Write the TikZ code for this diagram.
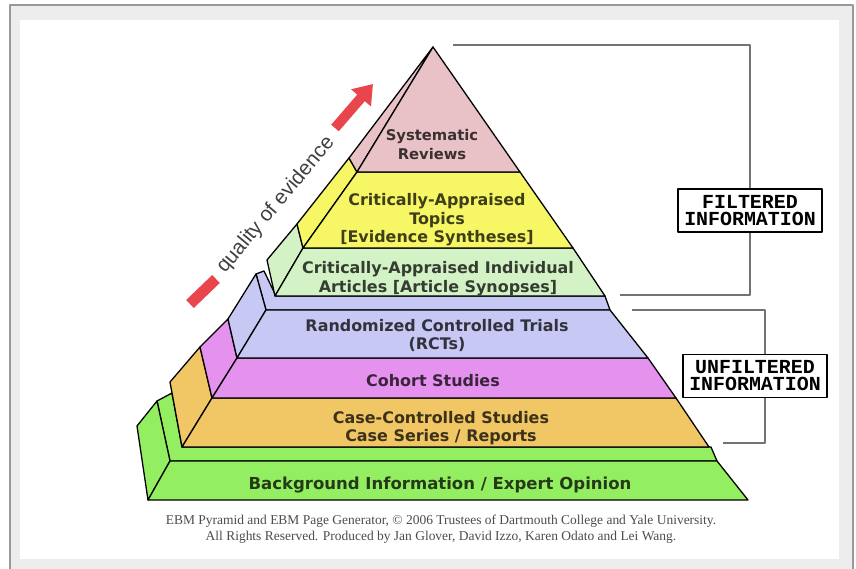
\documentclass[tikz,border=0pt]{standalone}
\usepackage{fontspec}
\setmainfont{DejaVu Sans}
\newfontfamily\boxfont{Liberation Mono}
\newfontfamily\qualfont{Liberation Sans}
\newfontfamily\creditfont{Liberation Serif}
\usetikzlibrary{arrows.meta}
\definecolor{srpink}{HTML}{E8C2C6}
\definecolor{topyellow}{HTML}{F7F765}
\definecolor{artgreen}{HTML}{D3F2C6}
\definecolor{rctblue}{HTML}{C8C8F5}
\definecolor{cohmag}{HTML}{E592EE}
\definecolor{ccorange}{HTML}{F1C665}
\definecolor{bggreen}{HTML}{94EE62}
\definecolor{evred}{HTML}{E8454D}
\begin{document}
\begin{tikzpicture}[x=0.03cm,y=-0.03cm,line join=round,
  face/.style={draw=black,line width=1.1pt},
  layertext/.style={font=\bfseries\fontsize{13.6}{15.8}\selectfont,align=center},
  infobox/.style={draw=black,line width=1.4pt,fill=white,minimum width=4.32cm,minimum height=1.29cm,
    inner sep=0pt,align=center,font=\boxfont\bfseries\fontsize{17}{14.5}\selectfont},
  bracket/.style={draw=black!55,line width=1.3pt}]
\useasboundingbox (0,0) rectangle (856,569);

% frame
\fill[black!7] (10,5) rectangle (853,569);
\draw[black!40,line width=1pt] (10,569) |- (853,5) -- (853,569);
\fill[white] (20,20) rectangle (839,559);

% background information
\filldraw[face,fill=bggreen] (157,401) -- (172,393) -- (182,447) -- (711,447) -- (717,461) -- (170,461) -- cycle;
\filldraw[face,fill=bggreen] (137,426) -- (157,401) -- (170,461) -- (148,500) -- cycle;
\filldraw[face,fill=bggreen] (170,461) -- (717,461) -- (748,500) -- (148,500) -- cycle;
\node[layertext,font=\bfseries\fontsize{14.1}{15.8}\selectfont,text=bggreen!25!black] (bg) at (440,485) {Background Information / Expert Opinion};

% case-controlled
\filldraw[face,fill=ccorange] (170,382) -- (200,347) -- (212,398) -- (182,447) -- cycle;
\filldraw[face,fill=ccorange] (212,398) -- (676,398) -- (709,447) -- (182,447) -- cycle;
\node[layertext,text=ccorange!25!black] (ccs) at (441,428) {Case-Controlled Studies\\Case Series / Reports};

% cohort
\filldraw[face,fill=cohmag] (200,347) -- (228,319) -- (237,358) -- (212,398) -- cycle;
\filldraw[face,fill=cohmag] (237,358) -- (648,358) -- (676,398) -- (212,398) -- cycle;
\node[layertext,text=cohmag!25!black] (coh) at (433,381) {Cohort Studies};

% rct
\filldraw[face,fill=rctblue] (256,274) -- (264,271) -- (276,296) -- (605,296) -- (610,310) -- (266,310) -- cycle;
\filldraw[face,fill=rctblue] (228,319) -- (256,274) -- (266,310) -- (237,358) -- cycle;
\filldraw[face,fill=rctblue] (266,310) -- (610,310) -- (648,358) -- (237,358) -- cycle;
\node[layertext,text=rctblue!25!black] (rct) at (437,335.5) {Randomized Controlled Trials\\(RCTs)};

% articles
\filldraw[face,fill=artgreen] (267,260) -- (297,224) -- (303,248) -- (275,296) -- cycle;
\filldraw[face,fill=artgreen] (303,248) -- (573,248) -- (605,296) -- (275,296) -- cycle;
\node[layertext,text=artgreen!25!black] (cai) at (438,278.5) {Critically-Appraised Individual\\Articles {[Article Synopses]}};

% topics
\filldraw[face,fill=topyellow] (297,224) -- (349,158) -- (357,172) -- (303,248) -- cycle;
\filldraw[face,fill=topyellow] (357,172) -- (520,172) -- (573,248) -- (303,248) -- cycle;
\node[layertext,text=topyellow!25!black] (cat) at (437,220) {Critically-Appraised\\Topics\\{[Evidence Syntheses]}};

% systematic reviews
\filldraw[face,fill=srpink] (349,158) -- (433,47) -- (357,172) -- cycle;
\filldraw[face,fill=srpink] (433,47) -- (520,172) -- (357,172) -- cycle;
\node[layertext,font=\bfseries\fontsize{12.6}{16.2}\selectfont,text=srpink!25!black] (sr) at (432,144.5) {Systematic\\Reviews};

% quality arrow
\draw[evred,line width=0.33cm] (190,304) -- (216,279);
\draw[evred,line width=0.3cm,-{Triangle[length=0.55cm,width=0.75cm]}] (335,128) -- (373,84);
\node[rotate=50,font=\qualfont\fontsize{17.6}{20}\selectfont,text=black!75] (qual) at (276,205) {quality of evidence};

% brackets
\coordinate (ftop) at (453,45);
\coordinate (fbot) at (620,295);
\coordinate (utop) at (632,310);
\coordinate (ubot) at (723,443);
\node[infobox] (filt) at (750,210.5) {FILTERED\\INFORMATION};
\node[infobox] (unfilt) at (755,376) {UNFILTERED\\INFORMATION};
\draw[bracket] (filt.north) |- (ftop);
\draw[bracket] (filt.south) |- (fbot);
\draw[bracket] ([xshift=0.3cm]unfilt.north) |- (utop);
\draw[bracket] ([xshift=0.3cm]unfilt.south) |- (ubot);

% credit
\node[font=\creditfont\fontsize{11.5}{13.7}\selectfont,text=black!70,align=center] (credit) at (441,529)
  {EBM Pyramid and EBM Page Generator, \textcopyright{} 2006 Trustees of Dartmouth College and Yale University.\\
   All Rights Reserved. Produced by Jan Glover, David Izzo, Karen Odato and Lei Wang.};
\end{tikzpicture}
\end{document}
